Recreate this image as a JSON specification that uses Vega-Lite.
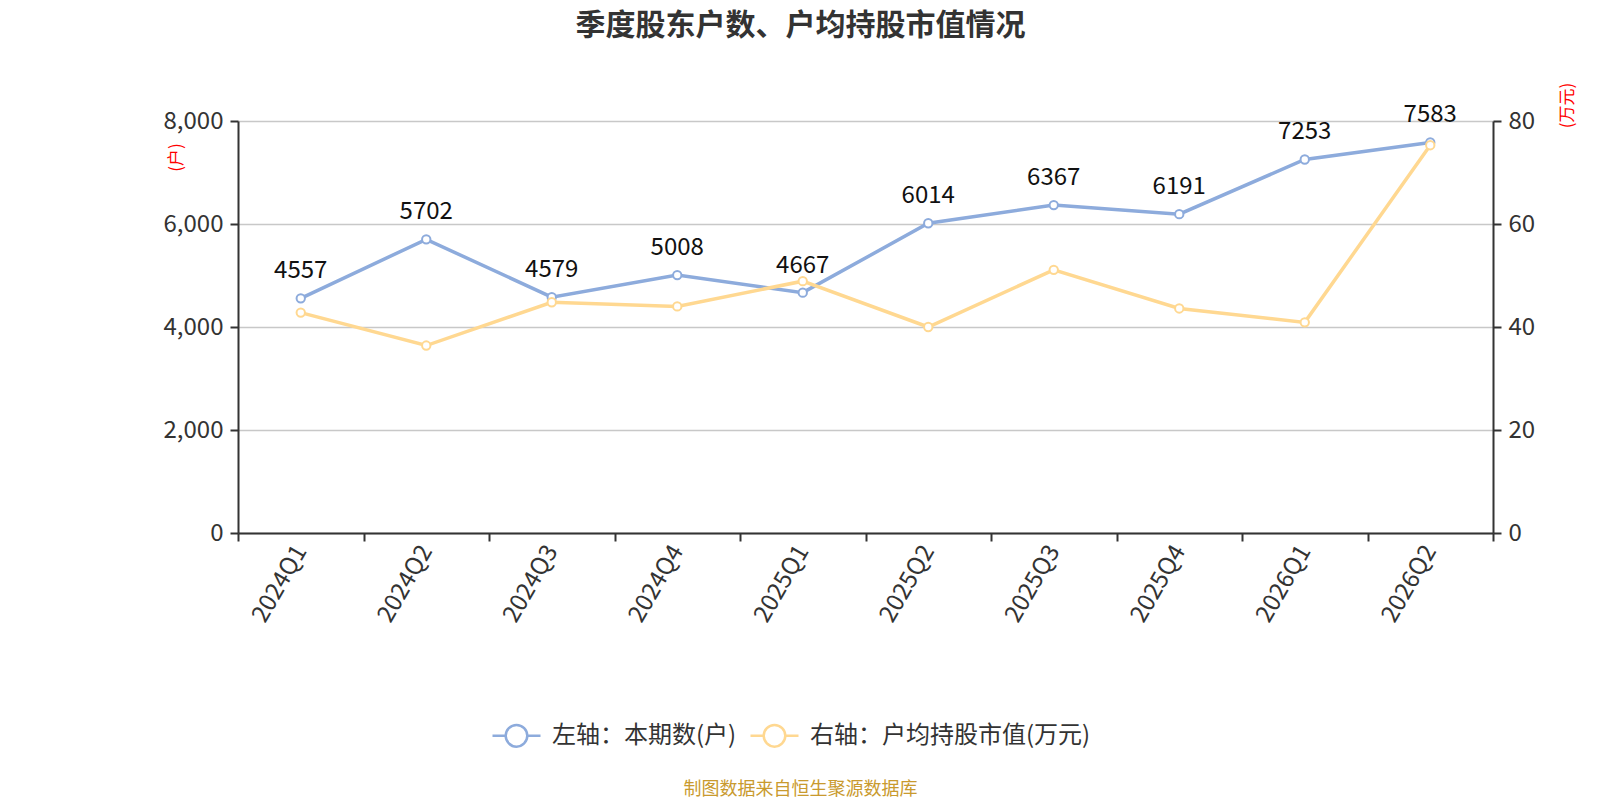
{
  "$schema": "https://vega.github.io/schema/vega-lite/v6.json",
  "width": 1255,
  "height": 412,
  "autosize": {"type": "none"},
  "padding": {"left": 238, "top": 121, "right": 107, "bottom": 267},
  "background": "white",
  "config": {
    "font": "Noto Sans CJK SC",
    "view": {"stroke": null},
    "axis": {
      "labelFontSize": 24,
      "labelColor": "#333",
      "labelPadding": 7,
      "domainColor": "#333",
      "domainWidth": 2,
      "tickColor": "#333",
      "tickWidth": 2,
      "tickSize": 8,
      "gridColor": "#c8c8c8",
      "gridWidth": 1.5
    }
  },
  "title": {
    "text": "季度股东户数、户均持股市值情况",
    "fontSize": 30,
    "fontWeight": "bold",
    "color": "#333",
    "anchor": "middle",
    "dx": -65,
    "offset": 41
  },
  "data": {
    "values": [
      {"q": "2024Q1", "hu": 4557, "mv": 42.8},
      {"q": "2024Q2", "hu": 5702, "mv": 36.4},
      {"q": "2024Q3", "hu": 4579, "mv": 44.8},
      {"q": "2024Q4", "hu": 5008, "mv": 44.0},
      {"q": "2025Q1", "hu": 4667, "mv": 48.9},
      {"q": "2025Q2", "hu": 6014, "mv": 40.0},
      {"q": "2025Q3", "hu": 6367, "mv": 51.1},
      {"q": "2025Q4", "hu": 6191, "mv": 43.6},
      {"q": "2026Q1", "hu": 7253, "mv": 40.9},
      {"q": "2026Q2", "hu": 7583, "mv": 75.3}
    ]
  },
  "encoding": {
    "x": {
      "field": "q",
      "type": "ordinal",
      "sort": null,
      "scale": {"type": "band", "paddingInner": 0, "paddingOuter": 0},
      "axis": {
        "labelAngle": -60,
        "labelPadding": 6,
        "tickBand": "extent",
        "grid": false,
        "title": "制图数据来自恒生聚源数据库",
        "titleColor": "#c99a2e",
        "titleFontSize": 18,
        "titleFontWeight": "normal",
        "titleX": 562,
        "titleY": 256,
        "titleAlign": "center",
        "titleBaseline": "middle"
      }
    }
  },
  "layer": [
    {
      "encoding": {
        "y": {
          "field": "hu",
          "type": "quantitative",
          "scale": {"domain": [0, 8000]},
          "axis": {
            "orient": "left",
            "values": [0, 2000, 4000, 6000, 8000],
            "format": ",.0f",
            "grid": true,
            "title": "(户)",
            "titleColor": "red",
            "titleFontSize": 17,
            "titleFontWeight": "normal",
            "titleAngle": -90,
            "titleX": -62,
            "titleY": 36,
            "titleAlign": "center",
            "titleBaseline": "middle"
          }
        }
      },
      "layer": [
        {
          "mark": {"type": "line", "strokeWidth": 3.5},
          "encoding": {
            "color": {
              "datum": "左轴：本期数(户)",
              "scale": {
                "domain": ["左轴：本期数(户)", "右轴：户均持股市值(万元)"],
                "range": ["#8dabdc", "#ffd891"]
              },
              "legend": {
                "orient": "none",
                "legendX": 253,
                "legendY": 589,
                "direction": "horizontal",
                "title": null,
                "symbolType": "M-1,0L-0.45,0M0.45,0L1,0M0.45,0A0.45,0.45 0 1 1 -0.45,0A0.45,0.45 0 1 1 0.45,0",
                "symbolSize": 2304,
                "symbolStrokeWidth": 2.5,
                "symbolFillColor": "white",
                "labelFontSize": 24,
                "labelColor": "#333",
                "labelOffset": 10,
                "labelLimit": 0,
                "columnPadding": 8
              }
            }
          }
        },
        {
          "mark": {"type": "point", "filled": false, "fill": "white", "stroke": "#8dabdc", "strokeWidth": 2, "size": 70, "opacity": 1}
        },
        {
          "mark": {"type": "text", "fontSize": 24, "color": "#111", "dy": -20, "baseline": "alphabetic"},
          "encoding": {"text": {"field": "hu", "type": "quantitative", "format": "d"}}
        }
      ]
    },
    {
      "encoding": {
        "y": {
          "field": "mv",
          "type": "quantitative",
          "scale": {"domain": [0, 80]},
          "axis": {
            "orient": "right",
            "values": [0, 20, 40, 60, 80],
            "grid": false,
            "title": "(万元)",
            "titleColor": "red",
            "titleFontSize": 17,
            "titleFontWeight": "normal",
            "titleAngle": -90,
            "titleX": 74,
            "titleY": -16,
            "titleAlign": "center",
            "titleBaseline": "middle"
          }
        }
      },
      "layer": [
        {
          "mark": {"type": "line", "strokeWidth": 3.5},
          "encoding": {"color": {"datum": "右轴：户均持股市值(万元)"}}
        },
        {
          "mark": {"type": "point", "filled": false, "fill": "white", "stroke": "#ffd891", "strokeWidth": 2, "size": 70, "opacity": 1}
        }
      ]
    }
  ],
  "resolve": {"scale": {"y": "independent"}}
}
